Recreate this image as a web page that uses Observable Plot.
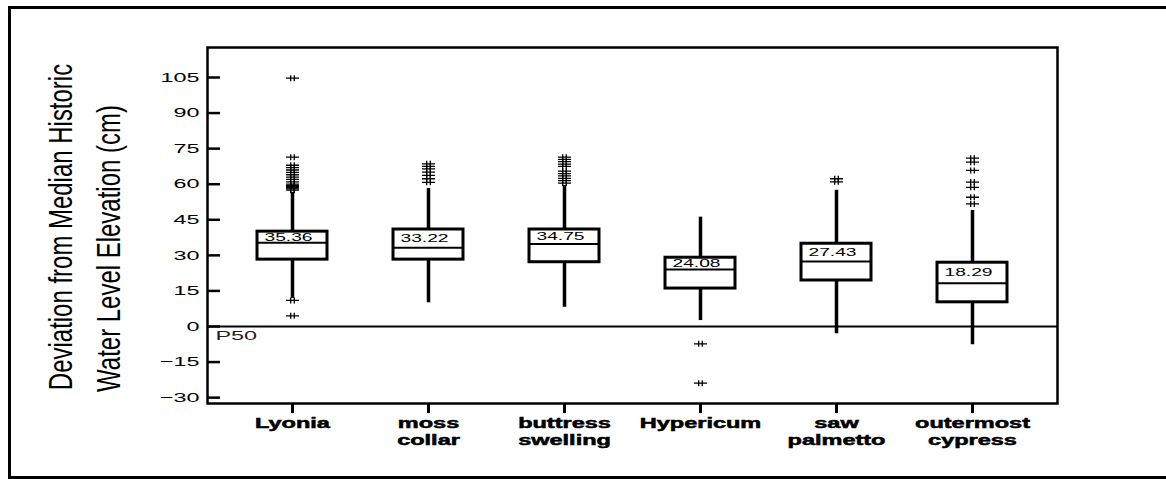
<!DOCTYPE html>
<html><head><meta charset="utf-8">
<script src="https://cdn.jsdelivr.net/npm/d3@7"></script>
<script src="https://cdn.jsdelivr.net/npm/@observablehq/plot@0.6"></script>
<style>
body{margin:0;background:#fff;}
#wrap{position:relative;width:1166px;height:479px;overflow:hidden;}
#chart{position:absolute;left:0;top:0;}
#border{position:absolute;left:8px;top:6px;width:1200px;height:467px;border:3px solid #000;pointer-events:none;}
</style></head><body>
<div id="wrap"><div id="chart"></div><div id="border"></div></div>
<script>
// ---- data ----
const categories = ["Lyonia", "moss\ncollar", "buttress\nswelling", "Hypericum", "saw\npalmetto", "outermost\ncypress"];
const medians = [35.36, 33.22, 34.75, 24.08, 27.43, 18.29];
const q1 = [28.2, 28.2, 27.1, 16.0, 19.4, 10.2];
const q3 = [40.0, 40.9, 40.9, 29.0, 34.9, 26.9];
const whiskerLow = [11.8, 10.0, 8.1, 2.5, -3.1, -7.7];
const whiskerHigh = [56.6, 58.2, 59.5, 46.1, 57.5, 48.9];
const outliers = [
  [104.7, 71.4, 68, 67, 66, 65, 64, 63, 62, 61, 60, 59.5, 59, 58.5, 58, 57.5, 11, 4.5],
  [68.6, 67.5, 66.5, 65.1, 63.7, 62.3, 60.8],
  [71.4, 70.5, 69.5, 68.5, 67.5, 65.5, 64.5, 63.5, 62.5, 61.5, 60.5],
  [-7.3, -23.9],
  [62.3, 61],
  [71.0, 69.3, 65.8, 60.9, 58.7, 54.5, 51.7]
];
const yTicks = [-30, -15, 0, 15, 30, 45, 60, 75, 90, 105];
const yDomain = [-32.47, 117.65];
const yTitle1 = "Deviation from Median Historic";
const yTitle2 = "Water Level Elevation (cm)";
const p50Label = "P50";

// ---- tables ----
const boxes = categories.map((c, i) => ({cat: c, q1: q1[i], med: medians[i], q3: q3[i], lo: whiskerLow[i], hi: whiskerHigh[i]}));
const outs = categories.flatMap((c, i) => outliers[i].map(v => ({cat: c, v})));

const W = 1166, H = 479, mL = 207, mR = 109, mT = 47, mB = 76;
const outlierSymbol = {
  draw(ctx) {
    ctx.moveTo(-6.5, 0); ctx.lineTo(6.5, 0);
    ctx.moveTo(-1.8, -3); ctx.lineTo(-1.8, 3);
    ctx.moveTo(1.8, -3); ctx.lineTo(1.8, 3);
  }
};

const plot = Plot.plot({
  width: W, height: H,
  marginLeft: mL, marginRight: mR, marginTop: mT, marginBottom: mB,
  style: {fontFamily: "'Liberation Sans', Arial, sans-serif", background: "transparent", color: "black"},
  x: {type: "band", domain: categories, paddingInner: 0.488, paddingOuter: 0.35, label: null},
  y: {domain: yDomain, label: null},
  marks: [
    Plot.ruleY([0], {stroke: "black", strokeWidth: 2}),
    Plot.ruleY(yTicks, {y: d => d, insetRight: W - mL - mR - 13, stroke: "black", strokeWidth: 2.5}),
    Plot.axisY({ticks: yTicks, tickSize: 0, tickPadding: 8, fontSize: 13, label: null}),
    Plot.axisX({tickSize: 10, tickPadding: 3, fontSize: 14, fontWeight: "bold", lineHeight: 1.2, strokeWidth: 3, label: null}),
    Plot.ruleX(boxes, {x: "cat", y1: "lo", y2: "hi", stroke: "black", strokeWidth: 3.5}),
    Plot.barY(boxes, {x: "cat", y1: "q1", y2: "q3", fill: "white", stroke: "black", strokeWidth: 3}),
    Plot.tickY(boxes, {x: "cat", y: "med", stroke: "black", strokeWidth: 2}),
    Plot.text(boxes, {x: "cat", y: d => (d.q3 + d.med) / 2, text: d => d.med.toFixed(2), fontSize: 11, dx: -4, fill: "black"}),
    Plot.dot(outs, {x: "cat", y: "v", symbol: outlierSymbol, r: 4, stroke: "black", fill: "none", strokeWidth: 1.3}),
    Plot.text([0], {y: d => d, text: () => p50Label, frameAnchor: "left", textAnchor: "start", lineAnchor: "top", dx: 8, dy: 4, fontSize: 13, fill: "#222"}),
    Plot.text([yTitle1], {text: d => d, frameAnchor: "left", textAnchor: "middle", rotate: -90, fontSize: 34, dx: -146, dy: 1.5, fill: "black"}),
    Plot.text([yTitle2], {text: d => d, frameAnchor: "left", textAnchor: "middle", rotate: -90, fontSize: 34, dx: -98, dy: 23, fill: "black"}),
    Plot.frame({stroke: "black", strokeWidth: 2.5})
  ]
});

function stretchTexts(texts, sx) {
  texts.forEach(t => {
    let tr = t.getAttribute("transform");
    if (!tr) {
      const x = t.getAttribute("x") || 0, y = t.getAttribute("y") || 0;
      tr = `translate(${x},${y})`;
      t.removeAttribute("x"); t.removeAttribute("y");
    }
    t.setAttribute("transform", tr + ` scale(${sx},1)`);
  });
}
stretchTexts(plot.querySelectorAll('g[aria-label="y-axis tick label"] text'), 1.8);
const xLabels = plot.querySelectorAll('g[aria-label="x-axis tick label"] text');
stretchTexts(xLabels, 1.68);
xLabels.forEach(t => { t.setAttribute("stroke", "black"); t.setAttribute("stroke-width", "0.5"); });
// text marks in order: median labels, P50, title line 1, title line 2
const textGroups = plot.querySelectorAll('g[aria-label="text"]');
stretchTexts(textGroups[0].querySelectorAll("text"), 1.75);
stretchTexts(textGroups[1].querySelectorAll("text"), 1.8);
stretchTexts(textGroups[2].querySelectorAll("text"), 0.705);
stretchTexts(textGroups[3].querySelectorAll("text"), 0.705);

document.getElementById("chart").appendChild(plot);
</script>
</body></html>
